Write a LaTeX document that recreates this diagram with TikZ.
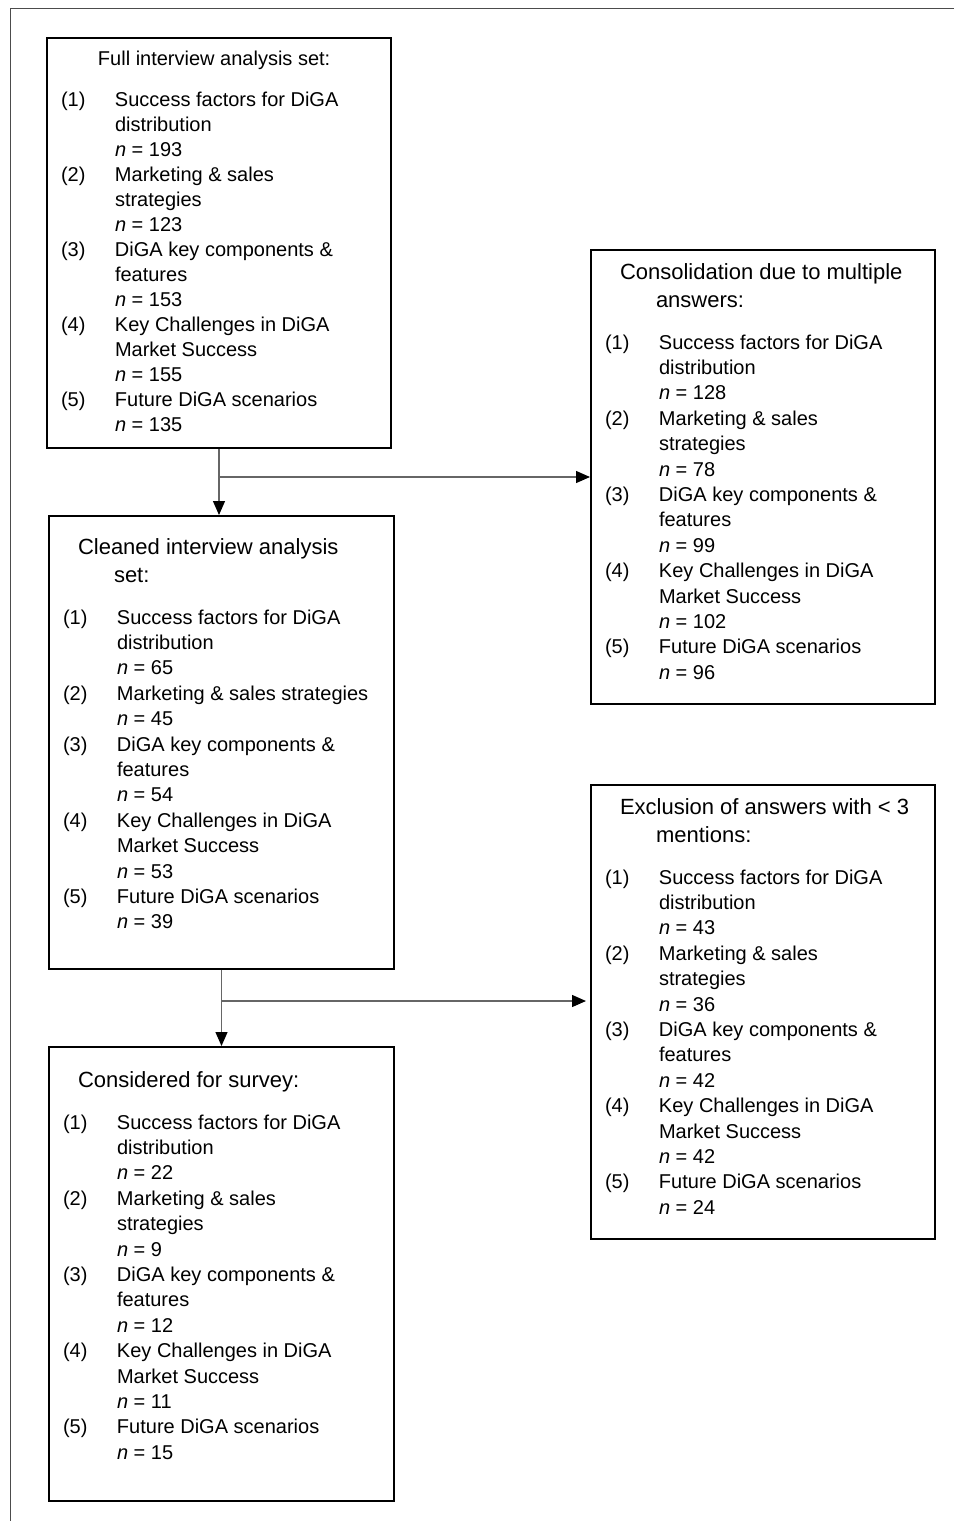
\documentclass[tikz,border=0pt]{standalone}
\usepackage{fontspec}
\setmainfont{Liberation Sans}
\usetikzlibrary{arrows.meta}

\newcommand{\headfont}{\fontsize{22}{28}\selectfont}
\newcommand{\listfont}[1][25.4]{\fontsize{20}{#1}\selectfont}
\newcommand{\nval}[1]{\textit{n} = #1}
\newcommand{\topstrut}[1][19.6pt]{\rule{0pt}{#1}}
\newcommand{\panelbody}[4]{\parbox[c][#1][t]{#2}{\raggedright
  \vspace*{#3}#4}}
\newenvironment{itemlist}{\begin{tabular}[t]{@{\hspace{14pt}}p{54pt}@{}l@{}}}{\end{tabular}\par}

\begin{document}
\begin{tikzpicture}[x=1pt,y=-1pt,
  panel/.style={draw,line width=2pt,inner sep=0pt,anchor=north west},
  flow/.style={draw=black!60,line width=1.3pt,-{Triangle[length=14pt,width=12pt,color=black]}},
  frameline/.style={draw=black!70,line width=0.9pt}]
\useasboundingbox (0,0) rectangle (954,1521);
\draw[frameline] (954,8) -- (10,8) -- (10,1521);

\node[panel] (full) at (46,37) {\panelbody{410pt}{344pt}{9.5pt}{%
  {\listfont[25]\hspace*{51pt}\topstrut[17.5pt]Full interview analysis set:\par}
  \vspace{16pt}
  {\listfont[25]\begin{itemlist}
  (1) & Success factors for DiGA\\
      & distribution\\
      & \nval{193}\\
  (2) & Marketing \& sales\\
      & strategies\\
      & \nval{123}\\
  (3) & DiGA key components \&\\
      & features\\
      & \nval{153}\\
  (4) & Key Challenges in DiGA\\
      & Market Success\\
      & \nval{155}\\
  (5) & Future DiGA scenarios\\
      & \nval{135}
  \end{itemlist}}}};

\node[panel] (cleaned) at (48,515) {\panelbody{453pt}{345pt}{18.4pt}{%
  {\headfont\hspace*{29pt}\topstrut Cleaned interview analysis\par
   \hspace*{65pt}set:\par}
  \vspace{16.6pt}
  {\listfont\begin{itemlist}
  (1) & Success factors for DiGA\\
      & distribution\\
      & \nval{65}\\
  (2) & Marketing \& sales strategies\\
      & \nval{45}\\
  (3) & DiGA key components \&\\
      & features\\
      & \nval{54}\\
  (4) & Key Challenges in DiGA\\
      & Market Success\\
      & \nval{53}\\
  (5) & Future DiGA scenarios\\
      & \nval{39}
  \end{itemlist}}}};

\node[panel] (survey) at (48,1046) {\panelbody{454pt}{345pt}{20.4pt}{%
  {\headfont\hspace*{29pt}\topstrut Considered for survey:\par}
  \vspace{16.6pt}
  {\listfont\begin{itemlist}
  (1) & Success factors for DiGA\\
      & distribution\\
      & \nval{22}\\
  (2) & Marketing \& sales\\
      & strategies\\
      & \nval{9}\\
  (3) & DiGA key components \&\\
      & features\\
      & \nval{12}\\
  (4) & Key Challenges in DiGA\\
      & Market Success\\
      & \nval{11}\\
  (5) & Future DiGA scenarios\\
      & \nval{15}
  \end{itemlist}}}};

\node[panel] (consol) at (590,249) {\panelbody{454pt}{344pt}{9.4pt}{%
  {\headfont\hspace*{29pt}\topstrut Consolidation due to multiple\par
   \hspace*{65pt}answers:\par}
  \vspace{16.6pt}
  {\listfont\begin{itemlist}
  (1) & Success factors for DiGA\\
      & distribution\\
      & \nval{128}\\
  (2) & Marketing \& sales\\
      & strategies\\
      & \nval{78}\\
  (3) & DiGA key components \&\\
      & features\\
      & \nval{99}\\
  (4) & Key Challenges in DiGA\\
      & Market Success\\
      & \nval{102}\\
  (5) & Future DiGA scenarios\\
      & \nval{96}
  \end{itemlist}}}};

\node[panel] (exclude) at (590,784) {\panelbody{454pt}{344pt}{9.4pt}{%
  {\headfont\hspace*{29pt}\topstrut Exclusion of answers with < 3\par
   \hspace*{65pt}mentions:\par}
  \vspace{16.6pt}
  {\listfont\begin{itemlist}
  (1) & Success factors for DiGA\\
      & distribution\\
      & \nval{43}\\
  (2) & Marketing \& sales\\
      & strategies\\
      & \nval{36}\\
  (3) & DiGA key components \&\\
      & features\\
      & \nval{42}\\
  (4) & Key Challenges in DiGA\\
      & Market Success\\
      & \nval{42}\\
  (5) & Future DiGA scenarios\\
      & \nval{24}
  \end{itemlist}}}};

\draw[flow] (full.south) -- (full.south |- cleaned.north);
\draw[flow] (full.south |- consol.west) -- (consol.west);
\coordinate (fork) at (cleaned.south |- 0,1001);
\draw[flow] (cleaned.south) -- (cleaned.south |- survey.north);
\draw[flow,shorten >=4pt] (fork) -- (fork -| exclude.west);
\end{tikzpicture}
\end{document}
